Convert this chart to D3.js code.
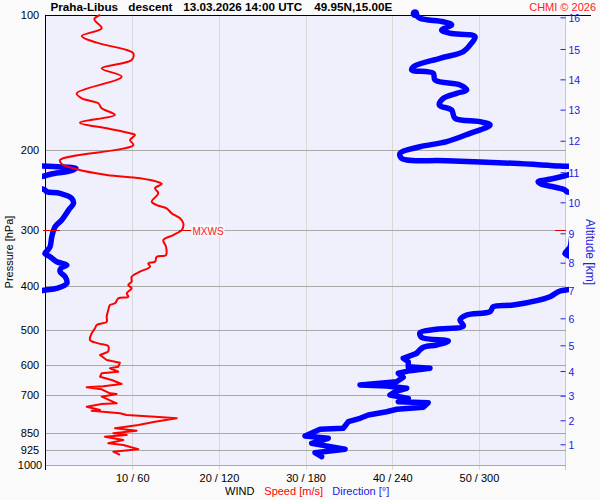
<!DOCTYPE html>
<html><head><meta charset="utf-8">
<script src="https://cdn.jsdelivr.net/npm/d3@7"></script>
<style>
html,body{margin:0;padding:0;background:#fafafa;}
svg{display:block;font-family:"Liberation Sans",Arial,sans-serif;}
</style></head><body>
<svg id="c" width="600" height="500"></svg>
<script>
// ---------------- data ----------------
const pressureTicks = [100,200,300,400,500,600,700,850,925,1000];
const speedTicks = [10,20,30,40,50];
const dirTicks = [60,120,180,240,300];
const altKm = [1,2,3,4,5,6,7,8,9,10,11,12,13,14,15,16];
const altPressure = [899.5,795.5,701.5,618.3,542.0,472.1,410.0,355.1,305.6,260.8,223.6,190.3,162.3,139.0,119.0,101.2];
const maxWind = [300, 15.74]; // [hPa, m/s]
const smoothLimit = 560; // hPa: profiles are smooth above this level, jagged below

// wind speed profile [pressure hPa, speed m/s]
const speedProfile = [
[100,6.28],[102.2,5.62],[107.0,6.47],[111.3,4.17],[115.2,5.90],[119.6,9.36],[121.6,10.12],[125.9,9.93],
[131.4,6.47],[137.1,8.78],[149.3,3.59],[153.2,4.17],[157.1,6.08],[161.2,6.47],[166.8,8.01],[173.5,3.97],
[178.6,7.05],[183.2,9.74],[184.8,10.32],[189.6,9.74],[194.5,10.12],[210.0,1.66],[214.3,1.86],[220.2,3.59],
[226.7,7.05],[230.6,10.89],[234.6,12.82],[237.4,13.40],[242.7,12.62],[248.9,13.0],[260.0,12.24],[264.5,12.82],
[268.9,13.97],[275.9,14.55],[283.0,15.51],[290.4,15.89],[300.0,15.74],[308.3,14.73],[316.2,13.58],[327.2,13.89],
[341.5,13.89],[344.5,12.82],[353.4,12.62],[356.3,11.85],[362.5,12.05],[371.9,10.89],[381.5,9.93],[391.4,9.93],
[398.1,9.54],[404.9,9.93],[415.4,9.36],[422.7,9.54],[426.2,8.39],[437.2,8.01],[441.0,7.43],[452.4,7.23],
[468.2,7.05],[480.4,7.05],[488.6,5.90],[496.9,5.70],[509.8,5.32],[527.6,5.12],[536.6,6.08],[544.0,7.23],
[560.1,7.23],[569.6,6.28],[584.3,7.05],[592.5,8.58],[604.7,8.39],[609.6,7.43],[620.4,8.39],[625.5,6.47],
[636.5,6.28],[647.4,7.63],[660.7,8.78],[668.7,6.66],[671.4,4.74],[678.9,6.47],[692.9,7.43],[695.3,8.20],
[705.0,6.47],[729.3,8.20],[731.8,6.47],[742.0,4.74],[754.7,6.28],[757.3,5.32],[767.5,8.58],[774.3,9.36],
[781.0,12.62],[787.4,15.13],[801.2,12.62],[814.8,10.70],[828.7,8.01],[839.0,10.51],[850.2,7.81],[857.7,9.36],
[865.2,6.85],[880.0,8.97],[895.1,7.23],[902.7,8.97],[922.8,10.70],[934.1,7.81],[950.0,8.58]
];

// wind direction profile [pressure hPa, direction deg (unwrapped, continuous)]
const dirProfile = [
[99.3,255.7],[101.7,259.2],[103.5,275.3],[105.2,281.1],[108.0,274.2],[109.8,280.0],[111.7,297.3],[116.6,293.8],
[120.6,289.2],[124.8,273.0],[130.3,254.6],[132.5,253.5],[134.8,268.4],[139.5,269.6],[143.1,286.9],[146.8,291.5],
[149.3,284.6],[153.2,275.3],[158.5,272.6],[162.6,281.1],[169.6,283.4],[172.6,300.7],[175.6,307.7],[183.2,293.8],
[191.2,277.7],[196.2,259.2],[202.9,245.4],[208.2,246.5],[210.8,277.7],[213.6,323.8],[216.5,356.1],[217.3,368],
[219.1,381],[222.1,377],[225.6,364],[227.9,359],[231.5,350],[234.6,341],[237.4,343],[241.1,352],[244.8,359.5],
[247.0,360.8],[249.0,370],[255.5,378.1],[262.1,379.3],[271.3,375.9],[285.4,371.2],[295.4,366.6],[311.0,364.3],
[327.3,363.1],[332.8,361.5],[338.8,359.5],[344.5,363.1],[353.4,367.7],[359.4,374.7],[364.9,370.8],[371.9,370],
[381.5,373.5],[394.7,374.7],[404.9,367.6],[408.4,360],[412.0,354.9],[422.7,349.2],[441.0,323.8],[444.8,310.0],
[456.3,307.7],[464.2,291.5],[476.2,286.9],[491.1,289.2],[499.4,270.7],[508.2,259.2],[520.3,260.3],[530.3,278.8],
[541.2,270.7],[547.6,261.5],[564.7,256.9],[579.3,247.6],[589.4,251.1],[604.7,251.1],[609.6,266.1],[617.1,252.3],
[625.5,244.2],[638.4,247.6],[653.0,243.0],[664.1,217.7],[667.5,236.1],[675.4,250.0],[687.3,241.9],[699.1,238.4],
[711.1,251.1],[723.5,244.2],[727.2,264.9],[744.4,261.5],[752.0,243.1],[761.3,236.1],[774.3,223.4],[787.4,217.7],
[801.2,209.6],[828.7,206.1],[833.1,190.0],[862.1,179.6],[872.3,195.7],[895.1,184.2],[922.8,207.3],[938.9,186.5],
[958.5,191.1]
];

// ---------------- drawing ----------------
const FONT = '"Liberation Sans",Arial,sans-serif';
const svg = d3.select('#c');
const L = 45, R = 566, T = 15, B = 465;
const y = d3.scaleLog().domain([100,1000]).range([T,B]);
const xs = d3.scaleLinear().domain([0,60]).range([45.6,565.6]);
const xd = d3.scaleLinear().domain([0,360]).range([45.6,565.6]);
const px = v => Math.round(v) + 0.5;

// split a profile into a smooth upper part and a jagged lower part (sharing one point)
function split(arr){
  const i = arr.findIndex(d=>d[0] > smoothLimit);
  return [arr.slice(0,i+1), arr.slice(i)];
}

svg.append('rect').attr('width',600).attr('height',500).attr('fill','#fafafa');
svg.append('rect').attr('x',L).attr('y',T).attr('width',R-L).attr('height',B-T).attr('fill','#f0f0fc');

// vertical grid
svg.append('g').selectAll('line').data(speedTicks).join('line')
  .attr('x1',d=>px(xs(d))).attr('x2',d=>px(xs(d))).attr('y1',T).attr('y2',B+5)
  .attr('stroke','#d8d8d8');
svg.append('line').attr('x1',R-0.5).attr('x2',R-0.5).attr('y1',T).attr('y2',B+5).attr('stroke','#c8c8c8');

// horizontal grid
svg.append('g').selectAll('line').data(pressureTicks.slice(1)).join('line')
  .attr('x1',L).attr('x2',R).attr('y1',d=>px(y(d))).attr('y2',d=>px(y(d)))
  .attr('stroke','#a8a8a8');

// frame
svg.append('line').attr('x1',L).attr('x2',591).attr('y1',T+0.5).attr('y2',T+0.5).attr('stroke','#000');
svg.append('line').attr('x1',L+0.5).attr('x2',L+0.5).attr('y1',T).attr('y2',B+5).attr('stroke','#000');

// left axis labels
const gl = svg.append('g').attr('transform','translate(30,0)')
  .call(d3.axisLeft(y).tickValues(pressureTicks).tickFormat(d3.format('d')).tickSize(0).tickPadding(0));
gl.select('.domain').remove();
gl.selectAll('text').attr('text-anchor','middle').attr('font-size',11).attr('fill','#000').style('font-family',FONT);

// bottom axis labels
const gb = svg.append('g').attr('transform',`translate(0,${B+5})`)
  .call(d3.axisBottom(xs).tickValues(speedTicks).tickFormat((d,i)=>`${d} / ${dirTicks[i]}`).tickSize(0).tickPadding(4));
gb.select('.domain').remove();
gb.selectAll('text').attr('font-size',11).attr('fill','#000').style('font-family',FONT);

// right altitude axis
const gr = svg.append('g').attr('transform','translate(560.5,0)')
  .call(d3.axisRight(y).tickValues(altPressure).tickFormat((d,i)=>altKm[i]).tickSize(5).tickPadding(3));
gr.select('.domain').remove();
gr.selectAll('line').attr('stroke','#2020e0');
gr.selectAll('text').attr('font-size',10.5).attr('fill','#2020e0').attr('dy','0.4em').style('font-family',FONT);

// clip
svg.append('clipPath').attr('id','clp').append('rect')
  .attr('x',L-3).attr('y',5).attr('width',R-L+6).attr('height',B-5+3);

// direction (blue) with wrapping
const [dirTop, dirBot] = split(dirProfile);
const gd = svg.append('g').attr('clip-path','url(#clp)');
[-360,0,360].forEach(off=>{
  const smooth = d3.line().x(d=>xd(d[1]+off)).y(d=>y(d[0])).curve(d3.curveCatmullRom.alpha(0.5));
  const sharp = d3.line().x(d=>xd(d[1]+off)).y(d=>y(d[0]));
  [[dirTop,smooth],[dirBot,sharp]].forEach(([data,gen])=>{
    gd.append('path').datum(data).attr('d',gen)
      .attr('fill','none').attr('stroke','#0000ff').attr('stroke-width',5.5)
      .attr('stroke-linejoin','round').attr('stroke-linecap','round');
  });
});
gd.append('circle').attr('cx',xd(dirProfile[0][1])).attr('cy',y(dirProfile[0][0])).attr('r',4.3).attr('fill','#0000ff');

// speed (red)
const [spTop, spBot] = split(speedProfile);
svg.append('path').datum(spTop)
  .attr('d',d3.line().x(d=>xs(d[1])).y(d=>y(d[0])).curve(d3.curveCatmullRom.alpha(0.5)))
  .attr('fill','none').attr('stroke','#ff0000').attr('stroke-width',2).attr('stroke-linejoin','round');
svg.append('path').datum(spBot)
  .attr('d',d3.line().x(d=>xs(d[1])).y(d=>y(d[0])))
  .attr('fill','none').attr('stroke','#ff0000').attr('stroke-width',2).attr('stroke-linejoin','round');

// max wind markers
const my = px(y(maxWind[0]));
const mx = xs(maxWind[1]);
[[43,60],[mx-3,mx+9],[555,566]].forEach(s=>{
  svg.append('line').attr('x1',s[0]).attr('x2',s[1]).attr('y1',my).attr('y2',my).attr('stroke','#e00000');
});
svg.append('rect').attr('x',mx+9.5).attr('y',my-6).attr('width',33).attr('height',12).attr('fill','#fafafa').attr('opacity',0.8);
svg.append('text').attr('x',mx+10.5).attr('y',my+4).attr('font-size',10).attr('fill','#ff2020').text('MXWS');

// titles
const title = svg.append('g').attr('font-weight','bold').attr('font-size',11.7).attr('fill','#000');
title.append('text').attr('x',50.5).attr('y',11).text('Praha-Libus');
title.append('text').attr('x',128.3).attr('y',11).text('descent');
title.append('text').attr('x',183.3).attr('y',11).text('13.03.2026 14:00 UTC');
title.append('text').attr('x',314.3).attr('y',11).text('49.95N,15.00E');
svg.append('text').attr('x',596).attr('y',10.5).attr('text-anchor','end').attr('font-size',11).attr('fill','#ff2020').text('CHMI © 2026');

// axis titles
svg.append('text').attr('transform','translate(12.5,252) rotate(-90)').attr('text-anchor','middle')
  .attr('font-size',11).attr('fill','#000').text('Pressure [hPa]');
svg.append('text').attr('transform','translate(585.5,252) rotate(90)').attr('text-anchor','middle')
  .attr('font-size',12).attr('fill','#2020e0').text('Altitude [km]');

const bl = svg.append('g').attr('font-size',11);
bl.append('text').attr('x',225).attr('y',495).attr('fill','#000').text('WIND');
bl.append('text').attr('x',264.3).attr('y',495).attr('fill','#ff0000').text('Speed [m/s]');
bl.append('text').attr('x',332.3).attr('y',495).attr('fill','#2020e0').text('Direction [°]');
</script>
</body></html>
